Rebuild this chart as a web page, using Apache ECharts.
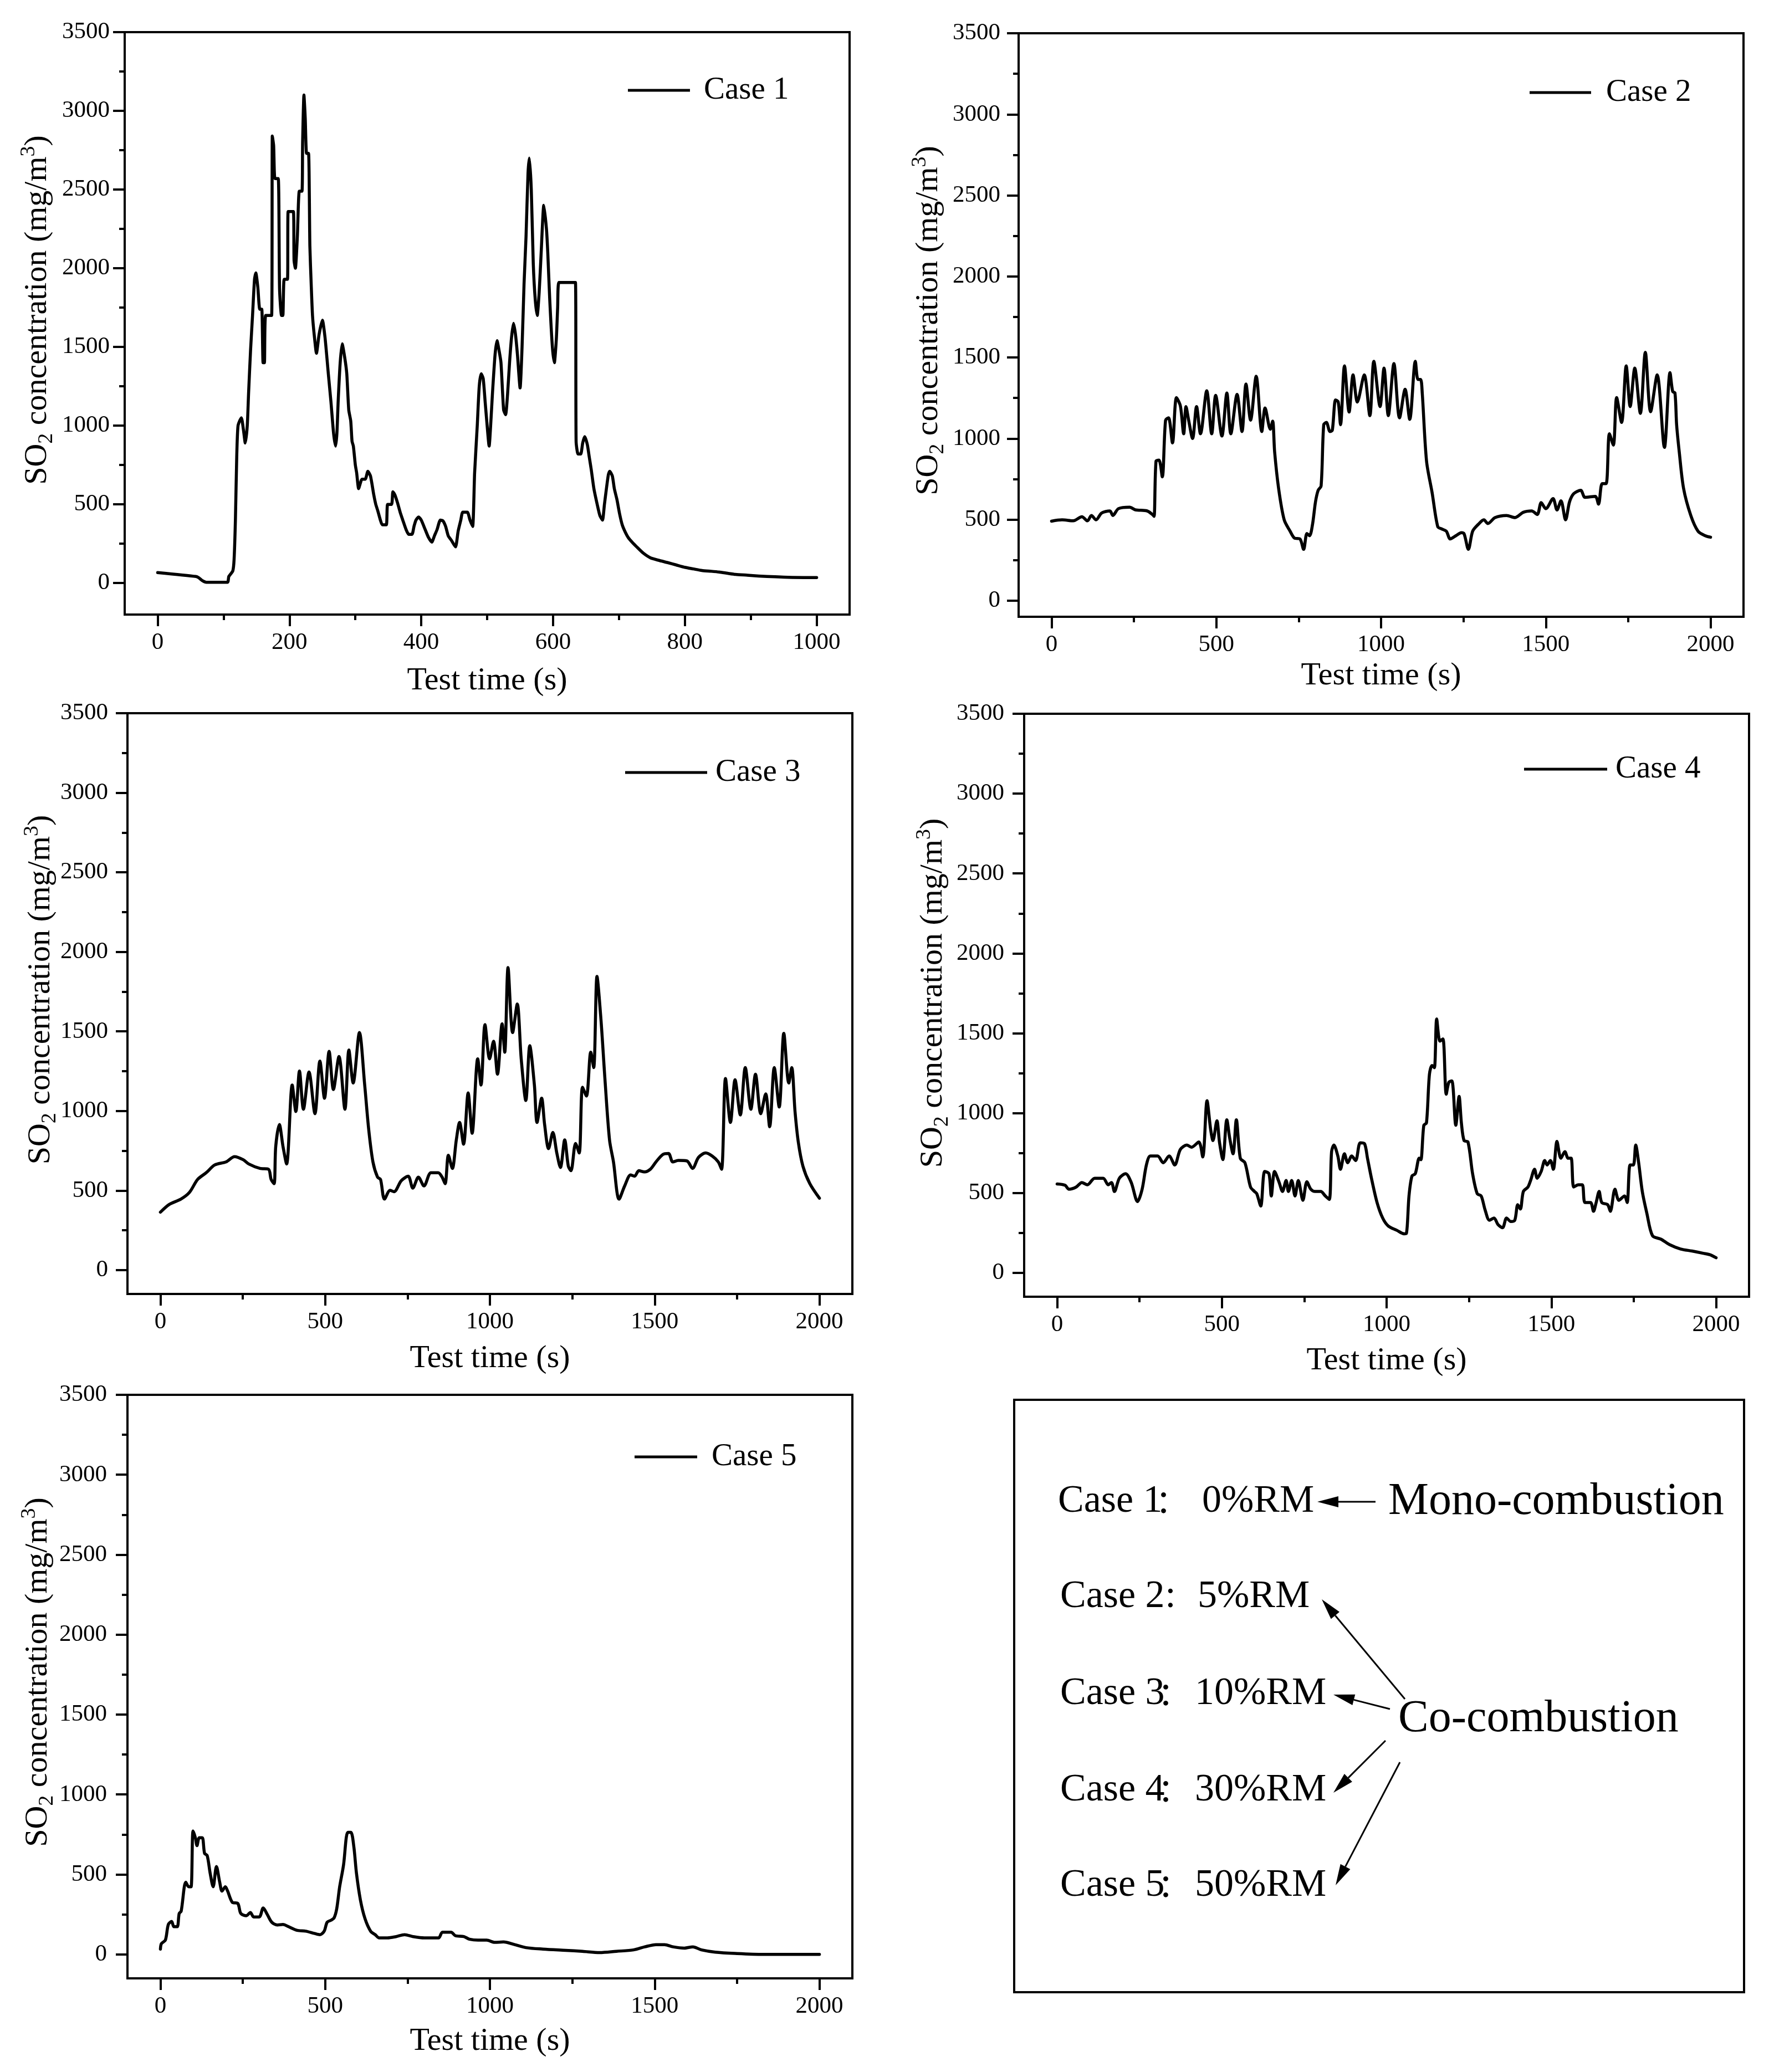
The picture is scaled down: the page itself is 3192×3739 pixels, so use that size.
<!DOCTYPE html>
<html><head><meta charset="utf-8">
<script src="https://cdn.jsdelivr.net/npm/echarts@6/dist/echarts.min.js"></script>
<style>html,body{margin:0;padding:0;background:#fff}#c{width:3192px;height:3739px}</style>
</head><body><div id="c"></div>
<script>
// ---------------- DATA ----------------
const case1 = [[0,67],[58,42],[62,35],[68,15],[74,5],[106,5],[108,42],[114,77],[116,150],[118,400],[120,800],[122,1000],[127,1050],[130,980],[133,890],[136,1000],[138,1206],[141,1480],[144,1700],[147,1930],[149,1970],[152,1880],[155,1740],[158,1740],[160,1400],[162,1400],[164,1700],[173,1700],[174,2840],[176,2780],[178,2570],[183,2570],[185,1870],[188,1700],[190,1700],[192,1930],[197,1930],[198,2360],[206,2360],[207,2050],[209,2000],[212,2200],[215,2490],[219,2490],[220,2800],[222,3100],[224,2950],[226,2730],[229,2730],[231,2140],[233,1900],[235,1700],[238,1560],[241,1460],[245,1580],[250,1670],[254,1560],[259,1330],[263,1150],[267,950],[270,870],[272,950],[274,1160],[277,1400],[280,1520],[284,1430],[287,1330],[290,1100],[293,1030],[295,900],[297,870],[300,750],[302,700],[305,600],[308,640],[310,660],[315,660],[319,710],[323,680],[328,560],[331,500],[334,460],[338,400],[341,370],[347,370],[349,500],[355,500],[357,580],[360,560],[364,510],[368,450],[372,400],[377,340],[381,310],[386,310],[389,360],[392,400],[396,420],[400,400],[406,340],[411,290],[416,260],[420,300],[424,340],[429,400],[433,395],[437,360],[441,300],[446,270],[452,230],[456,330],[460,400],[463,450],[470,450],[474,400],[478,360],[481,700],[485,1000],[488,1250],[491,1330],[494,1300],[497,1150],[500,1000],[503,870],[506,1050],[508,1200],[512,1450],[515,1540],[518,1480],[521,1400],[525,1100],[528,1070],[531,1200],[534,1400],[537,1560],[540,1650],[543,1580],[546,1450],[550,1240],[553,1500],[556,1900],[559,2200],[562,2600],[564,2700],[567,2500],[570,2030],[573,1800],[576,1700],[579,1850],[582,2100],[586,2400],[590,2250],[592,2100],[595,1800],[599,1500],[602,1400],[605,1550],[607,1750],[609,1910],[634,1910],[635,900],[638,820],[642,820],[645,890],[648,930],[652,880],[655,800],[658,720],[662,600],[667,500],[671,430],[675,400],[678,500],[681,600],[684,690],[686,710],[690,680],[693,600],[697,530],[701,440],[705,370],[710,320],[714,290],[720,260],[727,230],[737,190],[748,160],[760,145],[774,130],[787,115],[800,100],[813,90],[826,80],[840,75],[852,70],[865,62],[877,55],[895,50],[912,45],[937,40],[963,36],[1000,35]];

const case2 = [[0,490],[32,498],[66,492],[92,517],[109,492],[121,525],[135,498],[152,540],[177,553],[186,525],[203,567],[237,576],[254,560],[290,553],[306,531],[311,520],[317,860],[326,867],[336,763],[346,1113],[355,1127],[367,973],[379,1252],[391,1200],[401,1029],[408,1197],[416,1113],[428,1000],[440,1197],[452,1029],[471,1294],[486,1029],[498,1266],[517,1015],[532,1280],[544,1029],[563,1272],[578,1043],[590,1336],[604,1113],[621,1384],[638,1043],[648,1188],[664,1057],[671,1107],[677,917],[689,693],[706,498],[724,428],[737,386],[754,380],[765,316],[775,414],[783,400],[792,470],[801,609],[809,680],[818,707],[826,1085],[834,1099],[845,1043],[852,1050],[862,1238],[870,1225],[877,1085],[889,1448],[903,1163],[915,1392],[928,1225],[949,1392],[966,1141],[978,1476],[997,1197],[1009,1434],[1022,1141],[1039,1462],[1056,1127],[1073,1303],[1087,1118],[1104,1476],[1112,1364],[1120,1364],[1125,1280],[1138,861],[1155,665],[1172,456],[1184,442],[1198,428],[1210,380],[1227,400],[1244,419],[1252,412],[1265,316],[1278,428],[1295,470],[1312,498],[1324,475],[1346,512],[1381,525],[1406,512],[1432,545],[1457,553],[1474,531],[1486,604],[1500,567],[1522,629],[1534,559],[1546,615],[1560,498],[1572,609],[1585,660],[1606,680],[1619,637],[1650,643],[1660,595],[1671,721],[1683,721],[1693,1029],[1705,959],[1715,1252],[1730,1099],[1744,1448],[1756,1197],[1770,1434],[1787,1155],[1802,1532],[1818,1165],[1838,1392],[1860,945],[1877,1406],[1885,1290],[1892,1280],[1897,1085],[1905,917],[1918,693],[1940,525],[1962,428],[1984,400],[2000,391]];

const case3 = [[0,364],[27,413],[62,446],[88,488],[113,570],[139,612],[165,661],[199,680],[225,713],[251,694],[268,667],[302,639],[328,634],[336,570],[345,543],[350,777],[361,915],[372,777],[383,667],[400,1163],[411,997],[422,1251],[434,1011],[451,1245],[469,983],[484,1314],[498,1080],[512,1375],[525,1135],[542,1342],[560,1011],[572,1383],[585,1176],[604,1493],[620,1163],[632,887],[645,680],[659,584],[668,570],[680,446],[697,501],[709,493],[731,562],[752,590],[766,515],[783,584],[800,529],[821,612],[843,612],[855,584],[864,543],[874,722],[886,639],[898,818],[908,928],[920,791],[934,1113],[946,860],[963,1328],[973,1163],[985,1543],[999,1328],[1011,1438],[1023,1231],[1037,1548],[1045,1369],[1055,1901],[1069,1493],[1083,1672],[1095,1328],[1109,1066],[1121,1410],[1135,1163],[1143,928],[1157,1080],[1166,915],[1178,763],[1191,865],[1203,736],[1214,645],[1227,818],[1238,653],[1246,625],[1260,796],[1271,736],[1281,1149],[1293,1094],[1306,1369],[1315,1273],[1325,1846],[1337,1576],[1349,1204],[1363,818],[1375,680],[1392,446],[1409,529],[1427,598],[1439,590],[1452,625],[1469,617],[1487,634],[1504,680],[1525,727],[1542,733],[1555,680],[1572,689],[1598,686],[1615,639],[1633,708],[1655,736],[1675,716],[1693,680],[1703,634],[1715,1204],[1730,928],[1744,1196],[1760,975],[1775,1273],[1792,1011],[1806,1231],[1822,983],[1837,1107],[1849,901],[1863,1273],[1878,1025],[1892,1488],[1907,1176],[1916,1273],[1926,997],[1936,804],[1950,653],[1971,543],[2000,452]];

const case4 = [[0,556],[24,548],[36,523],[58,537],[75,565],[92,551],[114,592],[140,592],[155,551],[165,565],[174,509],[189,592],[208,620],[225,565],[244,446],[258,523],[271,675],[283,731],[305,731],[322,689],[340,731],[357,675],[374,772],[394,800],[408,786],[430,819],[442,725],[455,1077],[466,897],[473,828],[485,952],[493,814],[503,709],[515,958],[524,841],[534,745],[544,958],[556,717],[570,689],[587,537],[599,509],[606,495],[618,418],[630,634],[643,620],[650,481],[660,634],[674,565],[684,509],[695,578],[702,509],[712,578],[722,481],[732,578],[746,454],[758,570],[770,523],[783,509],[800,509],[814,481],[826,459],[833,758],[840,800],[852,731],[860,648],[872,745],[882,689],[894,731],[906,703],[920,814],[933,808],[942,717],[954,592],[971,440],[988,343],[1005,293],[1031,266],[1053,244],[1060,246],[1068,482],[1077,606],[1087,620],[1099,717],[1104,708],[1113,924],[1121,938],[1130,1243],[1138,1298],[1145,1284],[1152,1589],[1162,1450],[1171,1464],[1181,1118],[1189,1193],[1198,1201],[1210,924],[1220,1104],[1227,938],[1235,828],[1247,819],[1261,620],[1275,495],[1287,481],[1299,393],[1312,329],[1326,343],[1338,302],[1352,282],[1364,343],[1377,321],[1389,329],[1398,426],[1406,399],[1415,509],[1429,537],[1437,578],[1449,648],[1457,592],[1469,634],[1480,703],[1487,675],[1497,703],[1506,648],[1517,822],[1529,717],[1541,758],[1551,717],[1560,717],[1568,537],[1582,551],[1594,551],[1602,440],[1619,440],[1628,385],[1636,440],[1645,509],[1653,440],[1671,426],[1679,385],[1693,523],[1705,454],[1722,481],[1730,440],[1739,675],[1749,675],[1756,800],[1765,689],[1776,509],[1790,371],[1807,232],[1833,210],[1858,177],[1892,149],[1927,136],[1961,122],[1981,113],[2000,94]];

const case5 = [[0,33],[3,67],[15,89],[24,187],[34,206],[41,173],[51,173],[57,256],[63,270],[77,451],[86,423],[93,423],[99,772],[106,730],[111,680],[118,730],[127,730],[134,632],[142,618],[151,507],[160,423],[170,549],[180,451],[187,396],[197,423],[204,396],[218,326],[235,318],[244,256],[261,242],[273,262],[283,234],[300,234],[312,290],[324,251],[338,201],[355,184],[372,187],[389,173],[415,150],[441,145],[467,131],[484,123],[497,145],[506,201],[518,214],[527,228],[535,284],[544,423],[556,563],[564,730],[569,763],[578,763],[587,674],[595,507],[607,340],[621,223],[638,145],[652,123],[664,103],[689,103],[715,111],[741,123],[767,111],[801,103],[844,103],[856,139],[882,139],[895,117],[921,111],[938,95],[964,89],[990,89],[1015,75],[1041,78],[1075,61],[1110,42],[1161,33],[1230,25],[1281,19],[1333,11],[1384,19],[1436,28],[1470,47],[1504,61],[1530,61],[1556,47],[1590,39],[1616,47],[1642,28],[1684,14],[1744,6],[1830,0],[2000,0]];

const seriesData = [case1, case2, case3, case4, case5];
const caseNames = ['Case 1', 'Case 2', 'Case 3', 'Case 4', 'Case 5'];
const yMajorTicks = [0, 500, 1000, 1500, 2000, 2500, 3000, 3500];
const yMinorTicks = [250, 750, 1250, 1750, 2250, 2750, 3250];
const xMajorTicks1000 = [0, 200, 400, 600, 800, 1000];
const xMinorTicks1000 = [100, 300, 500, 700, 900];
const xMajorTicks2000 = [0, 500, 1000, 1500, 2000];
const xMinorTicks2000 = [250, 750, 1250, 1750];
const xTitle = 'Test time (s)';
const yTitleRich = '{n|SO}{sub|2}{n| concentration (mg/m}{sup|3}{n|)}';
const boxCaseLabels = ['Case 1', 'Case 2', 'Case 3', 'Case 4', 'Case 5'];
const boxColons = ['：', ':', '：', '：', '：'];
const boxRmLabels = ['0%RM', '5%RM', '10%RM', '30%RM', '50%RM'];
const monoLabel = 'Mono-combustion';
const coLabel = 'Co-combustion';

// ---------------- LAYOUT ----------------
const FONT = '"Liberation Serif", "Times New Roman", serif';
const panels = [
  {grid:{left:225,top:58,width:1308,height:1051}, x:[-50,1050], y:[-200,3500], ticks:0, yLabMargin:27, xNameGap:90, yNameGap:122, yShift:48, lg:{left:1133,center:163,w:112,pad:20}},
  {grid:{left:1838,top:60,width:1308,height:1053}, x:[-100,2100], y:[-100,3500], ticks:1, yLabMargin:33, xNameGap:77, yNameGap:127, yShift:16, lg:{left:2760,center:167,w:111,pad:22}},
  {grid:{left:230,top:1287,width:1308,height:1048}, x:[-100,2100], y:[-150,3500], ticks:1, yLabMargin:35, xNameGap:87, yNameGap:121, yShift:50, lg:{left:1128,center:1394,w:148,pad:10}},
  {grid:{left:1848,top:1288,width:1308,height:1052}, x:[-100,2100], y:[-150,3500], ticks:1, yLabMargin:36, xNameGap:86, yNameGap:129, yShift:44, lg:{left:2750,center:1388,w:150,pad:10}},
  {grid:{left:230,top:2517,width:1308,height:1053}, x:[-100,2100], y:[-150,3500], ticks:1, yLabMargin:37, xNameGap:84, yNameGap:126, yShift:52, lg:{left:1145,center:2629,w:113,pad:21}}
];

const plain = v => String(Math.round(v));
const grids = [], xAxes = [], yAxes = [], series = [], legends = [];
const tickStyle = {color:'#000', width:4};
panels.forEach((p, i) => {
  grids.push(Object.assign({show:true, borderColor:'#000', borderWidth:4, backgroundColor:'transparent', containLabel:false, outerBoundsMode:'none'}, p.grid));
  const xMaj = p.ticks === 0 ? xMajorTicks1000 : xMajorTicks2000;
  const xMin = p.ticks === 0 ? xMinorTicks1000 : xMinorTicks2000;
  xAxes.push({
    type:'value', gridIndex:i, position:'bottom', min:p.x[0], max:p.x[1],
    axisLine:{show:true, onZero:false, lineStyle:{color:'#000', width:4}},
    axisTick:{show:true, inside:false, length:21, customValues:xMaj, lineStyle:tickStyle},
    axisLabel:{show:true, customValues:xMaj, formatter:plain, margin:29, fontSize:43, fontFamily:FONT, color:'#000'},
    splitLine:{show:false},
    name:xTitle, nameLocation:'middle', nameGap:p.xNameGap, nameMoveOverlap:false,
    nameTextStyle:{fontSize:58, fontFamily:FONT, color:'#000', lineHeight:60}
  });
  xAxes.push({
    type:'value', gridIndex:i, position:'bottom', min:p.x[0], max:p.x[1],
    axisLine:{show:false, onZero:false}, axisLabel:{show:false}, splitLine:{show:false},
    axisTick:{show:true, inside:false, length:10, customValues:xMin, lineStyle:tickStyle}
  });
  yAxes.push({
    type:'value', gridIndex:i, position:'left', min:p.y[0], max:p.y[1],
    axisLine:{show:true, onZero:false, lineStyle:{color:'#000', width:4}},
    axisTick:{show:true, inside:false, length:21, customValues:yMajorTicks, lineStyle:tickStyle},
    axisLabel:{show:true, customValues:yMajorTicks, formatter:plain, margin:p.yLabMargin, fontSize:43, fontFamily:FONT, color:'#000'},
    splitLine:{show:false},
    name:yTitleRich, nameLocation:'middle', nameGap:p.yNameGap, nameMoveOverlap:false,
    nameTextStyle:{fontSize:58, fontFamily:FONT, color:'#000', padding:[0,0,0,p.yShift],
      rich:{
        n:{fontSize:58, fontFamily:FONT, color:'#000', lineHeight:70},
        sub:{fontSize:38, fontFamily:FONT, color:'#000', lineHeight:40, verticalAlign:'bottom'},
        sup:{fontSize:38, fontFamily:FONT, color:'#000', lineHeight:40, verticalAlign:'top'}
      }}
  });
  yAxes.push({
    type:'value', gridIndex:i, position:'left', min:p.y[0], max:p.y[1],
    axisLine:{show:false, onZero:false}, axisLabel:{show:false}, splitLine:{show:false},
    axisTick:{show:true, inside:false, length:10, customValues:yMinorTicks, lineStyle:tickStyle}
  });
  series.push({
    type:'line', name:caseNames[i], xAxisIndex:2*i, yAxisIndex:2*i,
    data:seriesData[i], showSymbol:false, symbol:'none', color:'#000',
    smooth: i === 0 ? 0.2 : 0.3,
    lineStyle:{color:'#000', width:5.5, join:'round', cap:'round'},
    itemStyle:{color:'#000'}, animation:false, silent:true
  });
  legends.push({
    data:[caseNames[i]], left:p.lg.left, top:p.lg.center - 32, padding:0,
    icon:'rect', itemWidth:p.lg.w, itemHeight:5, selectedMode:false,
    itemStyle:{color:'#000', borderWidth:0},
    textStyle:{fontSize:57, fontFamily:FONT, color:'#000', lineHeight:64, padding:[0,0,0,p.lg.pad]}
  });
});

// legend box annotations
const boxRect = {x:1830, y:2526, width:1317, height:1069};
const caseTextX = [1909, 1913, 1913, 1913, 1913];
const colonX = [2114, 2112, 2118, 2118, 2118];
const rmTextX = [2169, 2161, 2156, 2156, 2156];
const rowY = [2710, 2882, 3057, 3231, 3403];
const arrows = [
  [2482, 2710, 2377, 2710],
  [2535, 3066, 2385, 2886],
  [2508, 3084, 2406, 3058],
  [2500, 3141, 2406, 3235],
  [2526, 3180, 2410, 3402]
];
function txt(x, y, s, size, align, family) {
  const fam = family || FONT;
  return {type:'text', x:x, y:y, silent:true,
    style:{text:s, fill:'#000', font:size + 'px ' + fam, fontSize:size, fontFamily:fam,
      textAlign:align || 'left', textVerticalAlign:'middle', align:align || 'left', verticalAlign:'middle'}};
}
function arrow(a) {
  const [x1, y1, x2, y2] = a;
  const L = 38, W = 10;
  const dx = x2 - x1, dy = y2 - y1, len = Math.hypot(dx, dy);
  const ux = dx / len, uy = dy / len;
  const bx = x2 - ux * L, by = y2 - uy * L;
  return [
    {type:'line', silent:true, shape:{x1:x1, y1:y1, x2:bx, y2:by}, style:{stroke:'#000', lineWidth:3}},
    {type:'polygon', silent:true, shape:{points:[[x2, y2], [bx - uy * W, by + ux * W], [bx + uy * W, by - ux * W]]}, style:{fill:'#000'}}
  ];
}
const graphics = [{type:'rect', silent:true, shape:boxRect, style:{fill:'none', stroke:'#000', lineWidth:4}}];
boxCaseLabels.forEach((s, i) => {
  const ascii = boxColons[i] === ':';
  graphics.push(txt(caseTextX[i], rowY[i], s, 70));
  graphics.push(txt(colonX[i], rowY[i] + (ascii ? 0 : -2), boxColons[i], ascii ? 70 : 58, 'center',
    ascii ? FONT : '"Noto Sans CJK SC", sans-serif'));
  graphics.push(txt(rmTextX[i], rowY[i], boxRmLabels[i], 70));
});
graphics.push(txt(2505, 2710, monoLabel, 82));
graphics.push(txt(2523, 3102, coLabel, 82));
arrows.forEach(a => arrow(a).forEach(g => graphics.push(g)));

const chart = echarts.init(document.getElementById('c'), null, {renderer:'canvas', width:3192, height:3739});
chart.setOption({
  backgroundColor:'#fff', animation:false,
  grid:grids, xAxis:xAxes, yAxis:yAxes, series:series, legend:legends,
  graphic:{elements:graphics}
});
</script></body></html>
